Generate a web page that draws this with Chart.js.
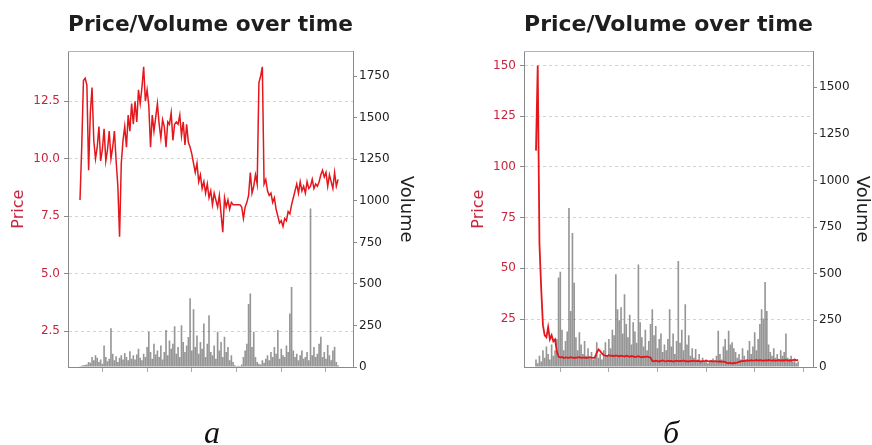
<!DOCTYPE html>
<html>
<head>
<meta charset="utf-8">
<script src="https://cdn.jsdelivr.net/npm/chart.js@4"></script>
<style>
  body { margin: 0; background: #fff; }
  #wrap { position: relative; width: 872px; height: 445px; overflow: hidden; }
  canvas { position: absolute; top: 0; }
  #chartA { left: 0; }
  #chartB { left: 436px; }
  .cap { position: absolute; width: 40px; text-align: center; font-family: 'Liberation Serif', serif; font-style: italic; font-size: 32px; line-height: 1; color: #111; top: 416px; }
</style>
</head>
<body>
<div id="wrap">
  <canvas id="chartA" width="436" height="445"></canvas>
  <canvas id="chartB" width="436" height="445"></canvas>
  <div class="cap" style="left:192px">a</div>
  <div class="cap" style="left:651px">б</div>
</div>
<script>
// chart a
const PRICE_A = [
  8.2, 10.5, 13.4, 13.5, 13.2, 9.5, 12.0, 13.1, 10.8, 10.0,
  10.5, 11.4, 9.9, 10.4, 11.3, 9.9, 10.4, 11.2, 10.0, 10.5,
  11.2, 9.9, 8.8, 6.6, 9.8, 10.8, 11.4, 10.5, 11.9, 11.2,
  12.4, 11.5, 12.5, 11.6, 13.0, 12.4, 13.1, 14.0, 12.5, 13.0,
  12.3, 10.5, 11.9, 11.2, 11.8, 12.4, 11.5, 10.9, 11.7, 11.4,
  10.5, 11.6, 11.5, 12.0, 10.8, 11.5, 11.6, 11.5, 11.9, 11.0,
  11.6, 10.6, 11.5, 10.7, 10.5, 10.2, 9.8, 9.4, 9.8, 9.0,
  9.3, 8.7, 9.0, 8.5, 8.9, 8.3, 8.6, 8.0, 8.5, 8.2,
  7.9, 8.4, 7.6, 6.8, 8.3, 7.9, 8.2, 7.8, 8.1, 8.0,
  8.0, 8.0, 8.0, 8.0, 7.9, 7.4, 7.9, 8.1, 8.4, 9.4,
  8.5, 8.8, 9.3, 8.9, 13.3, 13.6, 14.0, 8.9, 9.1, 8.6,
  8.4, 8.5, 8.1, 8.3, 7.8, 7.5, 7.2, 7.3, 7.05, 7.4,
  7.3, 7.7, 7.6, 8.0, 8.3, 8.6, 8.9, 8.5, 9.0, 8.6,
  8.8, 8.5, 9.0, 8.7, 8.8, 9.1, 8.7, 8.9, 8.8, 9.0,
  9.3, 9.5, 9.2, 9.4, 8.8, 9.3, 9.0, 8.7, 9.4, 8.8,
  9.1
]
const VOLUME_A = [
  5, 8, 10, 12, 15, 30, 25, 60, 40, 70,
  55, 30, 45, 20, 130, 60, 35, 50, 233, 80,
  40, 65, 30, 55, 70, 45, 85, 60, 40, 95,
  50, 70, 45, 75, 110, 55, 40, 80, 60, 120,
  212, 90, 50, 140, 75, 100, 60, 130, 45, 90,
  222, 70, 160, 110, 140, 246, 80, 120, 60, 252,
  150, 90, 130, 180, 414, 100, 348, 120, 190, 80,
  150, 110, 262, 60, 140, 312, 90, 70, 130, 50,
  212, 100, 150, 60, 182, 90, 120, 40, 70, 30,
  10, 5, 8, 6, 15, 60, 100, 140, 380, 443,
  120, 212, 60, 30, 20, 15, 40, 25, 50, 70,
  40, 90, 60, 120, 80, 222, 50, 110, 70, 60,
  130, 90, 322, 482, 100, 60, 80, 40, 70, 100,
  50, 60, 90, 40, 954, 70, 120, 60, 80, 140,
  182, 60, 90, 50, 132, 70, 40, 100, 122, 30,
  10
]
const PRICE_TICKS_A = [2.5, 5, 7.5, 10, 12.5]
const VOLUME_TICKS_A = [0, 250, 500, 750, 1000, 1250, 1500, 1750]
const TIME_TICKS_A = [0, 26, 52, 78, 104, 130, 156]

// chart б
const PRICE_B = [
  108, 150, 62, 40, 22, 17, 16, 21, 15, 17, 14, 15, 9, 6.5,
  6.0, 6.3, 5.8, 6.1, 6.0, 5.9, 6.2, 6.0, 5.8, 6.1, 6.0, 6.2, 5.9, 6.0, 6.1, 5.8, 6.0, 6.2, 6.0, 5.9, 6.1,
  8.5, 10, 9.2, 8, 7.3,
  7.0, 6.8, 7.2, 6.9, 7.0, 6.7, 7.1, 6.9, 6.6, 7.0, 6.8, 6.5, 6.9, 6.7, 6.4, 6.8, 6.6, 6.3, 6.5, 6.7,
  6.4, 6.2, 6.5, 6.3, 6.6, 6.2, 6.0,
  4.4, 4.2, 4.5, 4.3, 4.1, 4.4, 4.6, 4.3, 4.2, 4.5, 4.3, 4.4, 4.1, 4.3, 4.5, 4.2, 4.4, 4.3, 4.6, 4.2,
  4.3, 4.1, 4.4, 4.3, 4.5, 4.2, 4.4, 4.3, 4.1, 4.4, 4.2, 4.5, 4.3, 4.2, 4.4, 4.1, 4.3, 4.2, 4.0, 4.2,
  3.9, 4.1, 3.8,
  3.4, 3.2, 3.5, 3.1, 3.4, 3.3, 3.6, 3.9,
  4.2, 4.4, 4.3, 4.5, 4.6, 4.4, 4.7, 4.5, 4.6, 4.8, 4.5, 4.7, 4.6, 4.4, 4.7, 4.5, 4.8, 4.6, 4.5, 4.7,
  4.4, 4.6, 4.8, 4.5, 4.7, 4.6, 4.9, 4.5, 4.7, 4.6, 4.8, 5.0, 4.7, 4.9
]
const VOLUME_B = [
  40, 20, 60, 30, 90, 50, 110, 70, 40, 120,
  60, 90, 150, 480, 510, 200, 90, 140, 190, 853,
  300, 719, 452, 160, 90, 186, 120, 70, 140, 60,
  100, 50, 80, 40, 60, 133, 50, 70, 40, 90,
  133, 60, 150, 100, 200, 170, 497, 310, 250, 320,
  180, 390, 230, 160, 280, 120, 240, 190, 130, 550,
  240, 160, 110, 200, 90, 140, 230, 310, 170, 220,
  100, 150, 180, 80, 120, 90, 150, 310, 110, 180,
  70, 140, 568, 130, 200, 90, 336, 120, 170, 60,
  100, 50, 96, 40, 70, 30, 50, 25, 40, 20,
  35, 30, 45, 25, 60, 194, 70, 40, 110, 150,
  90, 194, 120, 133, 100, 80, 50, 70, 40, 100,
  60, 40, 90, 140, 70, 110, 186, 90, 150, 230,
  310, 260, 456, 300, 120, 80, 60, 100, 50, 70,
  40, 90, 60, 80, 180, 50, 40, 60, 30, 45,
  20, 30
]
const PRICE_TICKS_B = [25, 50, 75, 100, 125, 150]
const VOLUME_TICKS_B = [0, 250, 500, 750, 1000, 1250, 1500]
const TIME_TICKS_B = [0, 28, 56, 84, 112, 140]

const RED = '#e5161c'
const RED_TEXT = '#c8253d'
const AXIS = '#8a8a8a'

Chart.defaults.font.family = "'DejaVu Sans', sans-serif"

// top edge of the frame, Chart.js has no axis there
const frameTop = {
  id: 'frameTop',
  afterDraw: chart => {
    const { ctx, chartArea: a } = chart
    ctx.save()
    ctx.strokeStyle = '#b5b5b5'
    ctx.lineWidth = 1
    ctx.beginPath()
    ctx.moveTo(a.left, Math.round(a.top) + 0.5)
    ctx.lineTo(a.right, Math.round(a.top) + 0.5)
    ctx.stroke()
    ctx.restore()
  }
}

const makeChart = (id, o) => {
  new Chart(document.getElementById(id), {
    type: 'line',
    data: {
      datasets: [{
        type: 'line',
        data: o.price.map((v, i) => ({ x: i, y: v })),
        yAxisID: 'y',
        borderColor: RED,
        borderWidth: o.lineWidth,
        pointRadius: 0,
        tension: 0,
        order: 1
      }, {
        type: 'bar',
        data: o.volume.map((v, i) => ({ x: i, y: v })),
        yAxisID: 'y1',
        backgroundColor: 'rgba(110, 110, 110, 0.72)',
        barPercentage: 1,
        categoryPercentage: 0.95,
        order: 2
      }]
    },
    options: {
      animation: false,
      responsive: false,
      devicePixelRatio: 1,
      layout: { padding: 0 },
      plugins: {
        legend: { display: false },
        tooltip: { enabled: false },
        title: {
          display: true,
          text: 'Price/Volume over time',
          fullSize: false,
          color: '#1e1e1e',
          font: { size: 22, weight: 'bold' },
          padding: { top: 12, bottom: 13 }
        }
      },
      scales: {
        x: {
          type: 'linear',
          min: o.xMin,
          max: o.xMax,
          offset: false,
          afterBuildTicks: s => { s.ticks = o.timeTicks.map(v => ({ value: v })) },
          afterFit: s => { s.height = 78 },
          ticks: { display: false },
          grid: { drawOnChartArea: false, drawTicks: true, tickLength: 5, tickColor: '#aaa' },
          border: { color: AXIS }
        },
        y: {
          position: 'left',
          min: o.pMin,
          max: o.pMax,
          afterBuildTicks: s => { s.ticks = o.priceTicks.map(v => ({ value: v })) },
          afterFit: s => { s.width = o.leftW },
          ticks: { color: RED_TEXT, font: { size: 12 }, padding: 4, callback: o.priceFmt },
          grid: { color: '#d2d2d2', drawTicks: true, tickLength: 4, tickColor: AXIS },
          border: { color: AXIS, dash: [3, 3] },
          title: { display: true, text: 'Price', color: RED_TEXT, font: { size: 16 }, padding: { top: o.priceTitlePad, bottom: 0 } }
        },
        y1: {
          position: 'right',
          min: 0,
          max: o.vMax,
          afterBuildTicks: s => { s.ticks = o.volumeTicks.map(v => ({ value: v })) },
          afterFit: s => { s.width = o.rightW },
          ticks: { color: '#222', font: { size: 12 }, padding: 2, callback: v => String(v) },
          grid: { drawOnChartArea: false, drawTicks: true, tickLength: 4, tickColor: AXIS },
          border: { color: AXIS },
          title: { display: true, text: 'Volume', color: '#222', font: { size: 18 }, padding: { top: o.volumeTitlePad, bottom: 0 } }
        }
      }
    },
    plugins: [frameTop]
  })
}

makeChart('chartA', {
  price: PRICE_A, volume: VOLUME_A,
  priceTicks: PRICE_TICKS_A, volumeTicks: VOLUME_TICKS_A, timeTicks: TIME_TICKS_A,
  xMin: -6.98, xMax: 158.7, pMin: 0.935, pMax: 14.67, vMax: 1900,
  leftW: 68, rightW: 83, priceTitlePad: 9, volumeTitlePad: 20,
  lineWidth: 1.5, priceFmt: v => v.toFixed(1)
})

makeChart('chartB', {
  price: PRICE_B, volume: VOLUME_B,
  priceTicks: PRICE_TICKS_B, volumeTicks: VOLUME_TICKS_B, timeTicks: TIME_TICKS_B,
  xMin: -6.91, xMax: 159.6, pMin: 1.38, pMax: 156.9, vMax: 1692,
  leftW: 88, rightW: 59, priceTitlePad: 33, volumeTitlePad: 0,
  lineWidth: 1.8, priceFmt: v => String(v)
})
</script>
</body>
</html>
